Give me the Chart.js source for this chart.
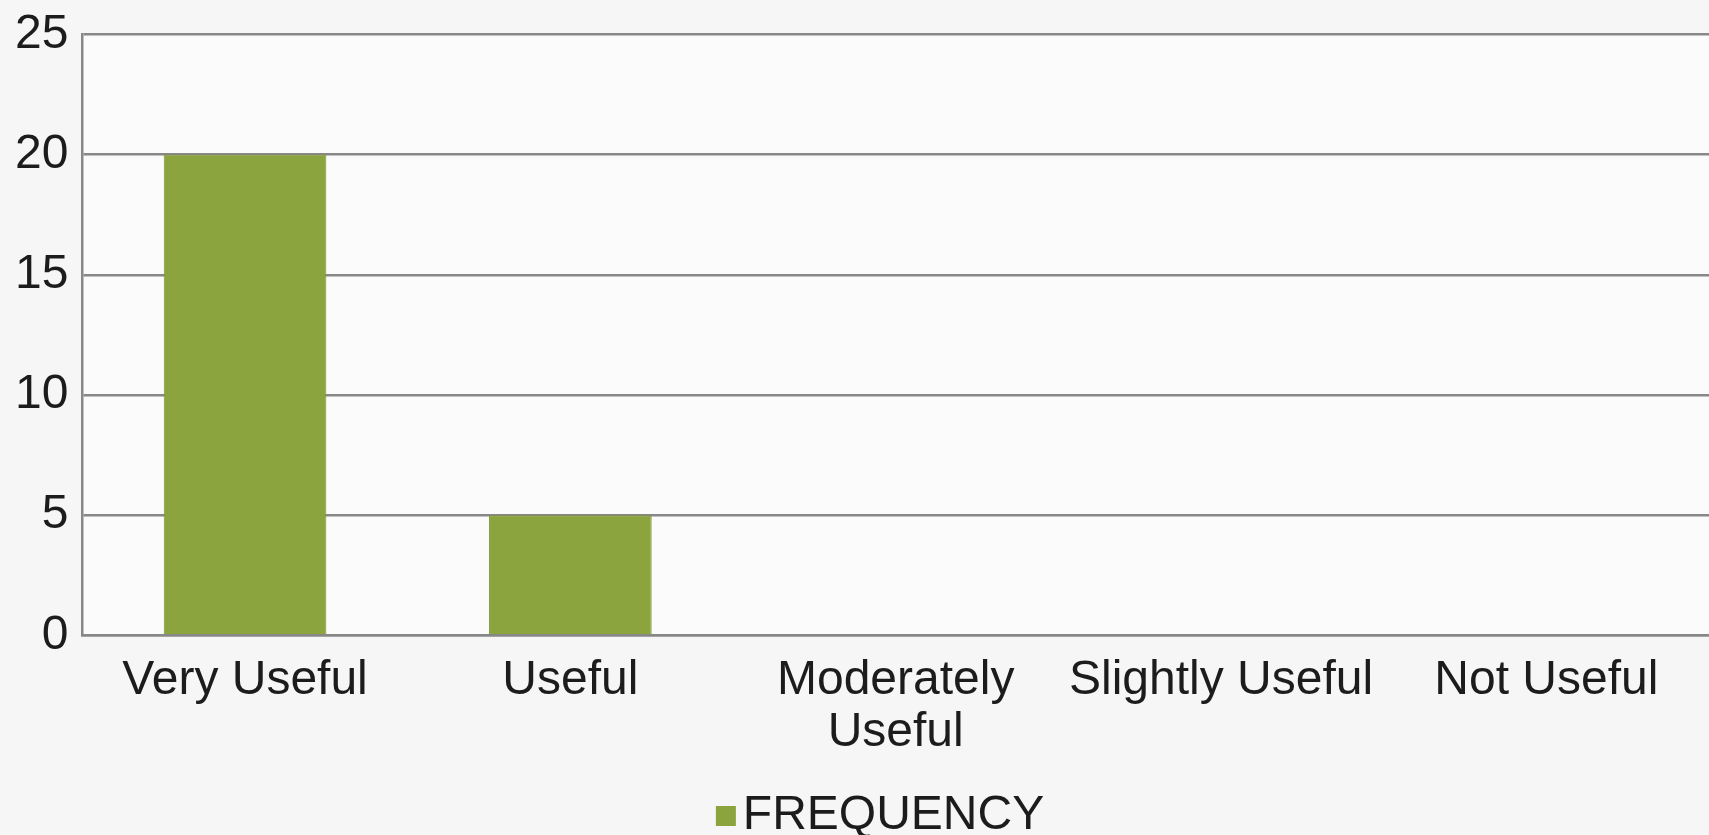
<!DOCTYPE html>
<html>
<head>
<meta charset="utf-8">
<script src="https://cdn.jsdelivr.net/npm/chart.js@4/dist/chart.umd.min.js"></script>
<style>
  html, body { margin: 0; padding: 0; background: #f6f6f6; }
  #wrap { width: 1709px; height: 835px; }
</style>
</head>
<body>
<div id="wrap"><canvas id="chart"></canvas></div>
<script>
//Categories and values
const categories = ["Very Useful", "Useful", ["Moderately", "Useful"], "Slightly Useful", "Not Useful"];
const frequency = [20, 5, 0, 0, 0];
const seriesName = "FREQUENCY";

//Y axis range
const yMin = 0;
const yMax = 25;
const yStep = 5;

const barColor = '#8ba43e';
const tickFont = { family: "'Liberation Sans', Arial, sans-serif", size: 48 };

//Legend square, sits close to the text like in the original
const legendMark = document.createElement('canvas');
legendMark.width = 80;
legendMark.height = 20;
const lctx = legendMark.getContext('2d');
lctx.fillStyle = barColor;
lctx.fillRect(57, 0, 20, 20);

//Plot area background
const plotBg = {
  id: 'plotBg',
  beforeDraw(chart) {
    const { ctx, chartArea } = chart;
    ctx.save();
    ctx.fillStyle = '#fbfbfb';
    ctx.fillRect(chartArea.left, chartArea.top, chartArea.right - chartArea.left, chartArea.bottom - chartArea.top);
    ctx.restore();
  }
};

new Chart(document.getElementById('chart'), {
  type: 'bar',
  data: {
    labels: categories,
    datasets: [{
      label: seriesName,
      data: frequency,
      backgroundColor: barColor,
      borderColor: '#7c9337',
      borderWidth: 1,
      categoryPercentage: 1,
      barPercentage: 0.5
    }]
  },
  options: {
    responsive: true,
    maintainAspectRatio: false,
    animation: false,
    layout: { padding: { top: 0, left: 1, right: -13, bottom: -15 } },
    plugins: {
      title: { display: false },
      tooltip: { enabled: false },
      legend: {
        position: 'bottom',
        labels: {
          color: '#1c1c1c',
          font: tickFont,
          usePointStyle: true,
          pointStyle: legendMark,
          pointStyleWidth: 40,
          boxHeight: 20,
          padding: 13
        }
      }
    },
    scales: {
      x: {
        grid: { display: false, drawTicks: false },
        border: { color: '#888', width: 2.5 },
        ticks: {
          color: '#1c1c1c',
          font: { ...tickFont, lineHeight: 1.08 },
          padding: 20,
          maxRotation: 0,
          autoSkip: false
        }
      },
      y: {
        min: yMin,
        max: yMax,
        grid: { color: '#888', lineWidth: 2.5, drawTicks: false },
        border: { color: '#888', width: 2.5 },
        ticks: {
          stepSize: yStep,
          color: '#1c1c1c',
          font: { ...tickFont, lineHeight: 0.85 },
          padding: 14
        }
      }
    }
  },
  plugins: [plotBg]
});
</script>
</body>
</html>
